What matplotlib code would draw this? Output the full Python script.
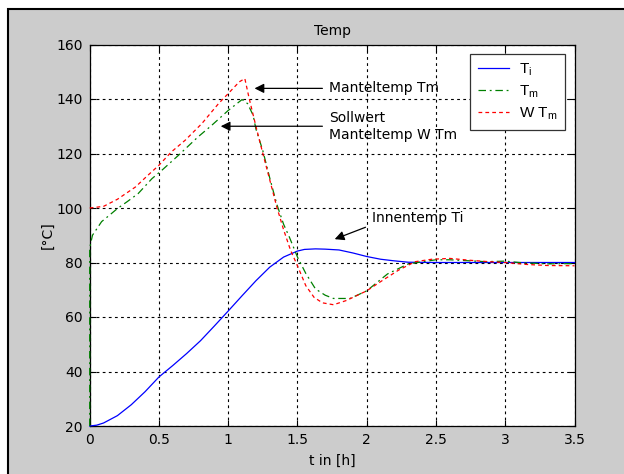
import matplotlib
matplotlib.use("Agg")
import matplotlib.pyplot as plt
from matplotlib.patches import Rectangle

plt.rcParams['font.family'] = ['DejaVu Sans']

# --- data ---
t_ti = [0, 0.05, 0.1, 0.2, 0.3, 0.4, 0.5, 0.6, 0.7, 0.8, 0.9, 1.0, 1.1, 1.2, 1.3,
        1.4, 1.5, 1.55, 1.63, 1.7, 1.8, 1.9, 2.0, 2.1, 2.2, 2.3, 2.5, 3.0, 3.5]
ti = [20, 20.3, 21.1, 23.8, 27.8, 32.6, 38, 42.2, 46.6, 51.3, 56.7, 62.2, 67.8, 73.3, 78.3,
      82.0, 84.2, 84.8, 85, 84.9, 84.6, 83.5, 82.2, 81.2, 80.6, 80.1, 80, 80, 80]

t_tm = [0, 0, 0.007, 0.02, 0.086, 0.146, 0.2, 0.27, 0.35, 0.45, 0.52, 0.64, 0.78, 0.88,
        1.0, 1.1, 1.14, 1.18, 1.2, 1.25, 1.3, 1.35, 1.4, 1.44, 1.5, 1.56, 1.63, 1.7, 1.76,
        1.88, 2.0, 2.15, 2.3, 2.5, 2.6, 2.86, 3.0, 3.1, 3.3, 3.5]
tm = [20, 85, 87, 90, 95, 97.5, 99.8, 102.3, 105.3, 110.8, 113.8, 119.3, 126, 130.3,
      135.8, 139.8, 138.3, 134, 129, 121, 111, 101.5, 94, 89.5, 82, 76, 70.3, 68, 66.8,
      66.8, 69.6, 75.8, 79.5, 81, 81, 80.3, 80.5, 80, 79.5, 79.6]

t_wtm = [0, 0.1, 0.2, 0.33, 0.42, 0.5, 0.59, 0.69, 0.81, 0.93, 1.0, 1.08, 1.12, 1.15,
         1.2, 1.25, 1.3, 1.35, 1.4, 1.45, 1.5, 1.56, 1.62, 1.68, 1.76, 1.85, 2.0, 2.11,
         2.23, 2.35, 2.47, 2.6, 2.75, 2.88, 3.0, 3.15, 3.3, 3.5]
wtm = [100, 100.6, 103.2, 107.7, 112, 115.7, 120.6, 124.9, 131, 138.3, 142, 146.3, 147.5,
       140.5, 130, 120, 110.3, 100.5, 92, 84.5, 78.8, 71.5, 67.2, 65.2, 64.5, 66, 69.6,
       73.3, 77.2, 80.3, 81.2, 81.5, 80.8, 80.3, 80, 79.3, 78.9, 78.8]

xticks = [0, 0.5, 1, 1.5, 2, 2.5, 3, 3.5]
xticklabels = ['0', '0.5', '1', '1.5', '2', '2.5', '3', '3.5']
yticks = [20, 40, 60, 80, 100, 120, 140, 160]
legend_labels = [r'T$_\mathregular{i}$', r'T$_\mathregular{m}$', r'W T$_\mathregular{m}$']

FS = 10
W, H = 624, 474
fig = plt.figure(figsize=(W / 100, H / 100), dpi=100, facecolor='white')
fig.patches.append(Rectangle((8 / W, -0.1), 1.2, (H - 9) / H + 0.1,
                             transform=fig.transFigure, facecolor='#cccccc',
                             edgecolor='black', lw=1.5, zorder=-10))

ax = fig.add_axes([89.7 / W, (H - 426) / H, 484.8 / W, 381.5 / H])
ax.set_facecolor('white')

l1, = ax.plot(t_ti, ti, color='#0000ff', lw=0.9, ls='-', zorder=3, clip_on=False)
l2, = ax.plot(t_tm, tm, color='#008000', lw=0.9, ls=(0, (6, 3, 1.5, 3)), zorder=3,
              clip_on=False)
l3, = ax.plot(t_wtm, wtm, color='#ff0000', lw=0.9, ls=(0, (3, 2.5)), zorder=3,
              clip_on=False)

ax.set_xlim(0, 3.5)
ax.set_ylim(20, 160)
ax.set_xticks(xticks)
ax.set_xticklabels(xticklabels)
ax.set_yticks(yticks)
ax.tick_params(direction='in', top=True, right=True, length=4, labelsize=FS, pad=5)
ax.grid(True, color='black', ls=(0, (2.5, 3)), lw=0.8)
for s in ax.spines.values():
    s.set_linewidth(0.9)

ax.set_title('Temp', fontsize=FS, pad=7)
ax.set_xlabel('t in [h]', fontsize=FS, labelpad=5)
ax.set_ylabel('[°C]', fontsize=FS, labelpad=1.5)

leg = ax.legend([l1, l2, l3], legend_labels, loc='upper right',
                prop={'family': 'Liberation Sans', 'size': 11},
                frameon=True, fancybox=False, edgecolor='#333333', framealpha=1,
                handlelength=2.0, handletextpad=0.7, borderaxespad=0.6,
                borderpad=0.5, labelspacing=0.35)
leg.get_frame().set_linewidth(0.9)
leg.set_zorder(5)

ap = dict(arrowstyle='-|>', color='black', lw=0.9, mutation_scale=14)
ax.annotate('', xy=(1.17, 143.9), xytext=(1.70, 143.9), arrowprops=ap)
ax.text(1.73, 143.9, 'Manteltemp Tm', fontsize=FS, va='center', ha='left')
ax.annotate('', xy=(0.926, 130), xytext=(1.70, 130), arrowprops=ap)
ax.text(1.73, 130, 'Sollwert\nManteltemp W Tm', fontsize=FS, va='center', ha='left',
        linespacing=1.25)
ax.annotate('', xy=(1.75, 88.2), xytext=(2.01, 93.3), arrowprops=ap)
ax.text(2.04, 96.2, 'Innentemp Ti', fontsize=FS, va='center', ha='left')

fig.savefig('out.png', dpi=100, facecolor=fig.get_facecolor())
